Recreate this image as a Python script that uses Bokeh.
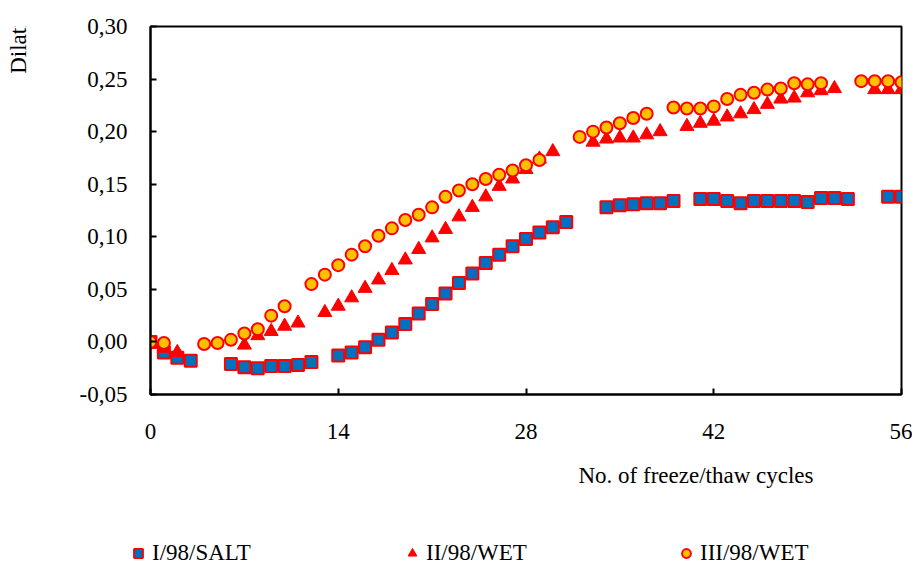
from math import pi
from bokeh.plotting import figure
from bokeh.layouts import column, row
from bokeh.models import (FixedTicker, CustomJSTickFormatter, Legend,
                          LegendItem, Range1d, Label, ColumnDataSource)
from bokeh.embed import file_html
from bokeh.resources import INLINE

# ---------------- data ----------------
salt_x = [0, 1, 2, 3, 6, 7, 8, 9, 10, 11, 12,
          14, 15, 16, 17, 18, 19, 20, 21, 22, 23, 24, 25, 26, 27, 28, 29, 30, 31,
          34, 35, 36, 37, 38, 39,
          41, 42, 43, 44, 45, 46, 47, 48, 49, 50, 51, 52,
          55, 56]
salt_y = [0.000, -0.010, -0.015, -0.018, -0.021, -0.024, -0.025, -0.023, -0.023, -0.022, -0.019,
          -0.013, -0.010, -0.005, 0.002, 0.009, 0.017, 0.027, 0.036, 0.046, 0.056, 0.065, 0.075,
          0.083, 0.091, 0.098, 0.104, 0.109, 0.114,
          0.128, 0.130, 0.131, 0.132, 0.132, 0.134,
          0.136, 0.136, 0.134, 0.132, 0.134, 0.134, 0.134, 0.134, 0.133, 0.137, 0.137, 0.136,
          0.138, 0.138]

wet2_x = [0, 1, 2, 7, 8, 9, 10, 11,
          13, 14, 15, 16, 17, 18, 19, 20, 21, 22, 23, 24, 25, 26, 27, 28, 29, 30,
          33, 34, 35, 36, 37, 38,
          40, 41, 42, 43, 44, 45, 46, 47, 48, 49, 50, 51,
          54, 55, 56]
wet2_y = [0.000, -0.006, -0.010, -0.003, 0.006, 0.010, 0.015, 0.018,
          0.028, 0.034, 0.042, 0.051, 0.059, 0.068, 0.078, 0.088, 0.099, 0.107, 0.119, 0.128,
          0.138, 0.148, 0.155, 0.164, 0.174, 0.181,
          0.190, 0.193, 0.194, 0.194, 0.197, 0.200,
          0.205, 0.208, 0.210, 0.214, 0.217, 0.221, 0.226, 0.231, 0.232, 0.237, 0.239, 0.241,
          0.240, 0.240, 0.240]

wet3_x = [0, 1, 4, 5, 6, 7, 8, 9, 10,
          12, 13, 14, 15, 16, 17, 18, 19, 20, 21, 22, 23, 24, 25, 26, 27, 28, 29,
          32, 33, 34, 35, 36, 37,
          39, 40, 41, 42, 43, 44, 45, 46, 47, 48, 49, 50,
          53, 54, 55, 56]
wet3_y = [0.000, -0.001, -0.002, -0.001, 0.002, 0.008, 0.012, 0.025, 0.034,
          0.055, 0.064, 0.073, 0.083, 0.091, 0.101, 0.108, 0.116, 0.121, 0.128, 0.138, 0.144,
          0.150, 0.155, 0.159, 0.163, 0.168, 0.173,
          0.195, 0.200, 0.204, 0.208, 0.213, 0.217,
          0.223, 0.222, 0.222, 0.224, 0.231, 0.235, 0.237, 0.240, 0.241, 0.246, 0.245, 0.246,
          0.248, 0.248, 0.248, 0.247]

series_names = ["I/98/SALT", "II/98/WET", "III/98/WET"]
x_ticks = [0, 14, 28, 42, 56]
y_ticks = [-0.05, 0.0, 0.05, 0.10, 0.15, 0.20, 0.25, 0.30]
y_tick_labels = ["-0,05", "0,00", "0,05", "0,10", "0,15", "0,20", "0,25", "0,30"]
x_title = "No. of freeze/thaw cycles"
y_title = "Dilation \u00a0[%]"

# ---------------- styles ----------------
FONT = "Liberation Serif"
FS = "23px"
STYLES = [dict(marker="square", size=12, fill_color="#0070C0", line_color="#FF0000", line_width=2),
          dict(marker="triangle", size=14, fill_color="#FF0000", line_color="#FF0000", line_width=1),
          dict(marker="circle", size=12, fill_color="#FFC000", line_color="#FF0000", line_width=2)]
sources = [ColumnDataSource(dict(x=salt_x, y=salt_y)),
           ColumnDataSource(dict(x=wet2_x, y=wet2_y)),
           ColumnDataSource(dict(x=wet3_x, y=wet3_y))]


def blank(width, height):
    f = figure(width=width, height=height, output_backend="svg", toolbar_location=None,
               x_axis_type=None, y_axis_type=None, x_range=Range1d(0, 56),
               y_range=Range1d(-0.05, 0.30),
               min_border=0, min_border_left=0, min_border_right=0,
               min_border_top=0, min_border_bottom=0)
    f.grid.visible = False
    f.outline_line_color = None
    f.background_fill_color = "white"
    f.border_fill_color = "white"
    return f


# ---------------- main plot ----------------
p = figure(width=872, height=452, output_backend="svg", toolbar_location=None,
           x_range=Range1d(0, 56), y_range=Range1d(-0.05, 0.30),
           min_border_left=110, min_border_right=11, min_border_top=26,
           min_border_bottom=58)
p.grid.visible = False
p.outline_line_color = "black"
p.outline_line_width = 2
p.background_fill_color = "white"
p.border_fill_color = "white"

p.xaxis.ticker = FixedTicker(ticks=x_ticks)
p.yaxis.ticker = FixedTicker(ticks=y_ticks)
p.yaxis.formatter = CustomJSTickFormatter(
    args=dict(yt=y_ticks, ylabels=y_tick_labels),
    code="""
let best = 0;
for (let i = 0; i < yt.length; i++) {
  if (Math.abs(yt[i] - tick) < Math.abs(yt[best] - tick)) best = i;
}
return ylabels[best];
""")

for ax in (p.xaxis[0], p.yaxis[0]):
    ax.axis_line_color = "black"
    ax.axis_line_width = 2
    ax.major_tick_in = 6
    ax.major_tick_out = 0
    ax.major_tick_line_width = 2
    ax.major_tick_line_color = "black"
    ax.minor_tick_line_color = None
    ax.major_label_text_font = FONT
    ax.major_label_text_font_size = FS
    ax.major_label_text_color = "black"
p.yaxis.major_label_standoff = 23
p.xaxis.major_label_standoff = 29

for src, st in zip(sources, STYLES):
    p.scatter("x", "y", source=src, **st)

# ---------------- y title strip ----------------
ytf = blank(40, 452)
ytf.add_layout(Label(x=18, y=442, x_units="screen", y_units="screen", text=y_title,
                     angle=pi / 2, text_align="right", text_baseline="middle",
                     text_font=FONT, text_font_size=FS, text_color="black"))

# ---------------- x title + legend strip ----------------
bot = blank(912, 114)
legend_renderers = []
for src, st in zip(sources, STYLES):
    r = bot.scatter("x", "y", source=src, **st)
    r.visible = False          # only used to draw the legend swatches
    legend_renderers.append(r)

bot.add_layout(Label(x=578, y=91, x_units="screen", y_units="screen", text=x_title,
                     text_align="left", text_baseline="middle",
                     text_font=FONT, text_font_size=FS, text_color="black"))

legend = Legend(items=[LegendItem(label=n, renderers=[r])
                       for n, r in zip(series_names, legend_renderers)],
                orientation="horizontal", location=(127, 0),
                padding=0, margin=0, spacing=134, label_standoff=3,
                glyph_width=22, glyph_height=22, label_width=115,
                border_line_alpha=0, background_fill_alpha=0,
                inactive_fill_alpha=0,
                label_text_font=FONT, label_text_font_size=FS,
                label_text_color="black")
bot.add_layout(legend)

layout = column(row(ytf, p, spacing=0), bot, spacing=0)
open("out.html", "w").write(file_html(layout, INLINE))
